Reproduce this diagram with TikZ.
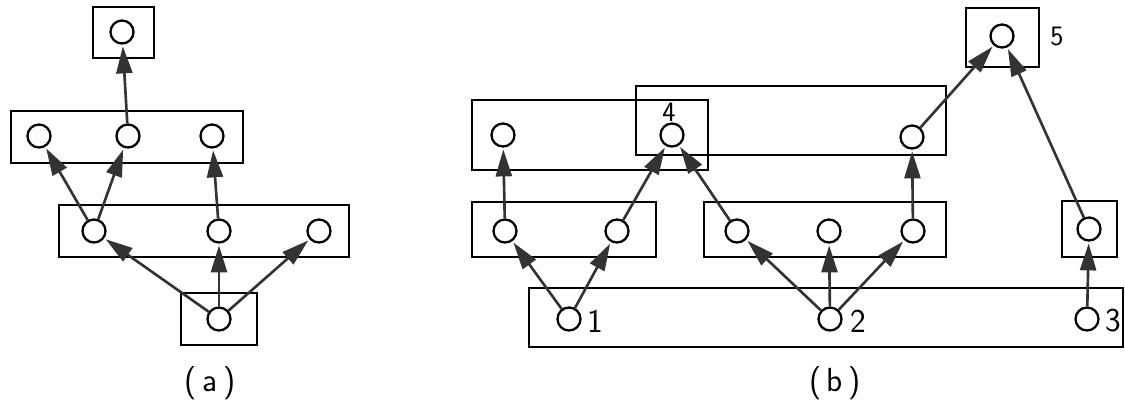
\documentclass[tikz,border=0pt]{standalone}
\usetikzlibrary{arrows.meta}
\tikzset{
    vtx/.style={circle, draw, line width=1.3pt, minimum size=0.46cm, inner sep=0pt},
    grp/.style={line width=0.8pt},
    dep/.style={line width=1.5pt, draw=black!80, -{Triangle[length=5.4mm, width=3.2mm, fill=black!80]}, shorten >=1pt},
    lbl/.style={font=\sffamily\fontsize{19}{22}\selectfont, inner sep=0pt},
    sml/.style={font=\sffamily\fontsize{16}{19}\selectfont, inner sep=0pt}
}
\begin{document}
\begin{tikzpicture}[x=0.02cm, y=-0.02cm]
    \useasboundingbox (0, 0) rectangle (1125, 410);
    % (a)
    \draw[grp] (93, 7) rectangle (154, 58);
    \draw[grp] (11, 111) rectangle (243, 163);
    \draw[grp] (59, 205) rectangle (349, 257);
    \draw[grp] (181, 293) rectangle (257, 345);
    \node[vtx] (a0) at (122, 32) {};
    \node[vtx] (a1) at (39, 136) {};
    \node[vtx] (a2) at (128, 136) {};
    \node[vtx] (a3) at (212, 136) {};
    \node[vtx] (a4) at (94, 231) {};
    \node[vtx] (a5) at (219, 231) {};
    \node[vtx] (a6) at (319, 231) {};
    \node[vtx] (a7) at (219, 319) {};
    \draw[dep] (a7) -- (a4);
    \draw[dep] (a7) -- (a5);
    \draw[dep] (a7) -- (a6);
    \draw[dep] (a4) -- (a1);
    \draw[dep] (a4) -- (a2);
    \draw[dep] (a5) -- (a3);
    \draw[dep] (a2) -- (a0);
    \node[lbl] (capa) at (210, 383) {(\,a\,)};
    % (b)
    \draw[grp] (966, 8) rectangle (1039, 67);
    \draw[grp] (472, 100) rectangle (708, 170);
    \draw[grp] (636, 86) rectangle (946, 155);
    \draw[grp] (472, 202) rectangle (656, 257);
    \draw[grp] (704, 202) rectangle (946, 257);
    \draw[grp] (1062, 201) rectangle (1117, 257);
    \draw[grp] (529, 288) rectangle (1123, 347);
    \node[vtx] (b5) at (1002, 36) {};
    \node[vtx] (u1) at (503, 135) {};
    \node[vtx] (b4) at (672, 135) {};
    \node[vtx] (u3) at (912, 137) {};
    \node[vtx] (m1) at (505, 231) {};
    \node[vtx] (m2) at (617, 231) {};
    \node[vtx] (m3) at (737, 231) {};
    \node[vtx] (m4) at (829, 231) {};
    \node[vtx] (m5) at (913, 231) {};
    \node[vtx] (m6) at (1089, 229) {};
    \node[vtx] (b1) at (569, 319) {};
    \node[vtx] (b2) at (830, 319) {};
    \node[vtx] (b3) at (1087, 319) {};
    \node[lbl] (t1) at (595, 321) {1};
    \node[lbl] (t2) at (858, 321) {2};
    \node[lbl] (t3) at (1113, 321) {3};
    \node[sml] (t4) at (669, 112) {4};
    \node[sml] (t5) at (1057, 36) {5};
    \draw[dep] (b1) -- (m1);
    \draw[dep] (b1) -- (m2);
    \draw[dep] (m1) -- (u1);
    \draw[dep] (m2) -- (b4);
    \draw[dep] (m3) -- (b4);
    \draw[dep] (b2) -- (m3);
    \draw[dep] (b2) -- (m4);
    \draw[dep] (b2) -- (m5);
    \draw[dep] (m5) -- (u3);
    \draw[dep] (u3) -- (b5);
    \draw[dep] (b3) -- (m6);
    \draw[dep] (m6) -- (b5);
    \node[lbl] (capb) at (835, 383) {(\,b\,)};
\end{tikzpicture}
\end{document}
